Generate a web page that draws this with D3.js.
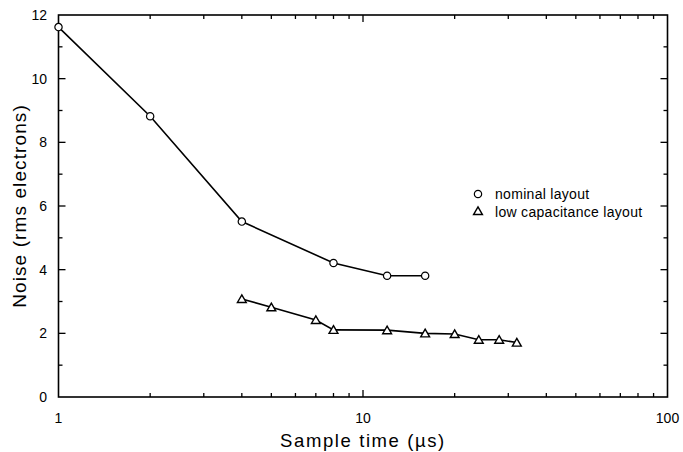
<!DOCTYPE html>
<html>
<head>
<meta charset="utf-8">
<script src="https://cdn.jsdelivr.net/npm/d3@7"></script>
<style>
  body { margin: 0; background: #fff; }
  text { font-family: "Liberation Sans", Arial, sans-serif; fill: #000; }
</style>
</head>
<body>
<svg id="chart" width="683" height="452"></svg>
<script>
// data
const nominalTime = [1, 2, 4, 8, 12, 16];
const nominalNoise = [11.62, 8.82, 5.51, 4.21, 3.81, 3.81];
const lowCapTime = [4, 5, 7, 8, 12, 16, 20, 24, 28, 32];
const lowCapNoise = [3.08, 2.82, 2.42, 2.11, 2.1, 2.0, 1.98, 1.8, 1.8, 1.71];
const yTicks = [0, 2, 4, 6, 8, 10, 12];
const yMinor = [1, 3, 5, 7, 9, 11];
const xTicks = [1, 10, 100];
const xMinor = [2, 3, 4, 5, 6, 7, 8, 9, 20, 30, 40, 50, 60, 70, 80, 90];

const width = 683, height = 452;
const marginLeft = 58.5, marginRight = 15.5, marginTop = 15, marginBottom = 55;

const svg = d3.select("#chart");

const x = d3.scaleLog().domain([1, 100]).range([marginLeft, width - marginRight]);
const y = d3.scaleLinear().domain([0, 12]).range([height - marginBottom, marginTop]);

const x0 = marginLeft, x1 = width - marginRight;
const y0 = height - marginBottom, y1 = marginTop;

// inside ticks on all four sides
function ticks(vals, len, horizontal) {
    vals.forEach(v => {
        if (horizontal) {
            const px = x(v);
            svg.append("line").attr("x1", px).attr("x2", px).attr("y1", y0).attr("y2", y0 - len)
                .attr("stroke", "#000").attr("stroke-width", 1.3);
            svg.append("line").attr("x1", px).attr("x2", px).attr("y1", y1).attr("y2", y1 + len)
                .attr("stroke", "#000").attr("stroke-width", 1.3);
        } else {
            const py = y(v);
            svg.append("line").attr("x1", x0).attr("x2", x0 + len).attr("y1", py).attr("y2", py)
                .attr("stroke", "#000").attr("stroke-width", 1.3);
            svg.append("line").attr("x1", x1).attr("x2", x1 - len).attr("y1", py).attr("y2", py)
                .attr("stroke", "#000").attr("stroke-width", 1.3);
        }
    });
}
ticks(yTicks.slice(1, -1), 7, false);
ticks(yMinor, 4, false);
ticks([10], 7, true);
ticks(xMinor, 4, true);

// frame
svg.append("rect")
    .attr("x", x0).attr("y", y1)
    .attr("width", x1 - x0).attr("height", y0 - y1)
    .attr("fill", "none").attr("stroke", "#000").attr("stroke-width", 1.6);

// tick labels
svg.selectAll(".ylab").data(yTicks).join("text")
    .attr("x", 47).attr("y", d => y(d) + 5)
    .attr("text-anchor", "end")
    .style("font-size", "14px")
    .text(d => d);

svg.selectAll(".xlab").data(xTicks).join("text")
    .attr("x", d => x(d)).attr("y", 423)
    .attr("text-anchor", "middle")
    .style("font-size", "14px")
    .text(d => d);

// axis titles
svg.append("text")
    .attr("x", (x0 + x1) / 2).attr("y", 447)
    .attr("text-anchor", "middle")
    .style("font-size", "18.5px")
    .style("letter-spacing", "1.6px")
    .text("Sample time (µs)");

svg.append("text")
    .attr("transform", `translate(26, ${(y0 + y1) / 2}) rotate(-90)`)
    .attr("text-anchor", "middle")
    .style("font-size", "19px")
    .style("letter-spacing", "1.1px")
    .text("Noise (rms electrons)");

const line = d3.line().x(d => x(d[0])).y(d => y(d[1]));
const nominal = nominalTime.map((t, i) => [t, nominalNoise[i]]);
const lowCap = lowCapTime.map((t, i) => [t, lowCapNoise[i]]);

svg.append("path").attr("d", line(nominal))
    .attr("fill", "none").attr("stroke", "#000").attr("stroke-width", 1.6);
svg.append("path").attr("d", line(lowCap))
    .attr("fill", "none").attr("stroke", "#000").attr("stroke-width", 1.6);

const circle = d3.symbol().type(d3.symbolCircle).size(42);
const triangle = d3.symbol().type(d3.symbolTriangle).size(34);

svg.selectAll(".nom").data(nominal).join("path")
    .attr("d", circle)
    .attr("transform", d => `translate(${x(d[0])},${y(d[1])})`)
    .attr("fill", "#fff").attr("stroke", "#000").attr("stroke-width", 1.2);

svg.selectAll(".low").data(lowCap).join("path")
    .attr("d", triangle)
    .attr("transform", d => `translate(${x(d[0])},${y(d[1]) + 1})`)
    .attr("fill", "#fff").attr("stroke", "#000").attr("stroke-width", 1.4);

// legend
const legend = svg.append("g").attr("transform", "translate(478, 194)");
legend.append("path").attr("d", circle)
    .attr("fill", "#fff").attr("stroke", "#000").attr("stroke-width", 1.2);
legend.append("text").attr("x", 17).attr("y", 5)
    .style("font-size", "14px").style("letter-spacing", "0.3px").text("nominal layout");
legend.append("path").attr("d", triangle)
    .attr("transform", "translate(0, 18)")
    .attr("fill", "#fff").attr("stroke", "#000").attr("stroke-width", 1.4);
legend.append("text").attr("x", 17).attr("y", 23)
    .style("font-size", "14px").style("letter-spacing", "0.3px").text("low capacitance layout");
</script>
</body>
</html>
